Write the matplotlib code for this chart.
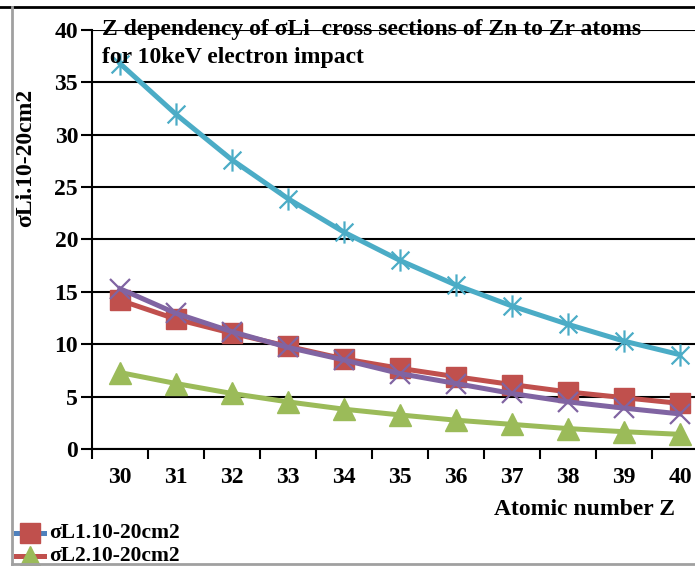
import matplotlib
matplotlib.use("Agg")
import matplotlib.pyplot as plt
from matplotlib.path import Path
from matplotlib.lines import Line2D

# Atomic numbers Zn (30) .. Zr (40)
z = [30, 31, 32, 33, 34, 35, 36, 37, 38, 39, 40]

# Cross sections in units of 10^-20 cm^2
sigma_L1 = [14.2, 12.4, 11.05, 9.8, 8.6, 7.7, 6.9, 6.15, 5.45, 4.9, 4.35]
sigma_L2 = [7.3, 6.25, 5.3, 4.5, 3.8, 3.25, 2.75, 2.35, 1.95, 1.65, 1.4]
sigma_L3 = [15.3, 12.95, 11.2, 9.7, 8.5, 7.2, 6.25, 5.3, 4.5, 3.9, 3.35]
sigma_Lt = [36.8, 31.95, 27.6, 23.9, 20.7, 18.0, 15.65, 13.65, 11.9, 10.3, 9.0]

y_ticks = [0, 5, 10, 15, 20, 25, 30, 35, 40]

title_lines = ["Z dependency of σLi  cross sections of Zn to Zr atoms",
               "for 10keV electron impact"]
legend_labels = ["σL1.10-20cm2", "σL2.10-20cm2"]

RED = "#C0504D"
GREEN = "#9BBB59"
PURPLE = "#8064A2"
CYAN = "#4BACC6"
BLUE = "#4F81BD"

plt.rcParams["font.family"] = ["Liberation Serif", "DejaVu Serif"]
plt.rcParams["font.weight"] = "bold"

W, H = 695, 566
fig = plt.figure(figsize=(W / 100, H / 100), dpi=100)


def fx(px):
    return px / W


def fy(py):
    return 1 - py / H


# plot area in pixels: x from 92 to 708 (clipped on the right), y from 30 to 449
left_px, right_px, top_px, bot_px = 92, 708, 30, 449
ax = fig.add_axes([fx(left_px), fy(bot_px),
                   (right_px - left_px) / W, (bot_px - top_px) / H])

# asterisk marker: an X plus a vertical bar
star_path = Path(
    [(-1, -1), (1, 1), (-1, 1), (1, -1), (0, -1.25), (0, 1.25)],
    [Path.MOVETO, Path.LINETO, Path.MOVETO, Path.LINETO, Path.MOVETO, Path.LINETO],
)

lw = 3.6
ax.plot(z, sigma_L1, color=RED, lw=lw, marker="s", ms=15, mfc=RED, mec=RED,
        zorder=3, clip_on=False)
ax.plot(z, sigma_L2, color=GREEN, lw=lw, marker="^", ms=16, mfc=GREEN, mec=GREEN,
        zorder=3, clip_on=False)
ax.plot(z, sigma_L3, color=PURPLE, lw=lw, marker="x", ms=15, mew=1.6, mec=PURPLE,
        zorder=4, clip_on=False)
ax.plot(z, sigma_Lt, color=CYAN, lw=lw, marker=star_path, ms=16, mew=1.6,
        mec=CYAN, mfc="none", zorder=4, clip_on=False)

ax.set_xlim(29.5, 40.5)
ax.set_ylim(0, 40)
ax.set_yticks(y_ticks)
ax.set_xticks(z)
ax.set_xticks([v - 0.5 for v in z] + [40.5], minor=True)
ax.tick_params(axis="x", which="major", length=0, pad=13, labelsize=17)
ax.tick_params(axis="x", which="minor", length=7.5, width=1.5, direction="out")
ax.tick_params(axis="y", length=8, width=1.5, direction="out", pad=2, labelsize=17)
for lab in ax.get_xticklabels() + ax.get_yticklabels():
    lab.set_fontweight("bold")

ax.grid(axis="y", color="black", lw=1.5)
ax.set_axisbelow(True)
for s in ["top", "right"]:
    ax.spines[s].set_visible(False)
ax.spines["left"].set_linewidth(1.5)
ax.spines["bottom"].set_linewidth(1.5)

# title (overlaps the top gridline)
fig.text(fx(102), fy(35), title_lines[0], fontsize=17, fontweight="bold",
         va="baseline", ha="left")
fig.text(fx(102), fy(63), title_lines[1], fontsize=17, fontweight="bold",
         va="baseline", ha="left")

fig.text(fx(26), fy(158), "σLi.10-20cm2", rotation=90, fontsize=17,
         fontweight="bold", va="center", ha="center")
fig.text(fx(675), fy(515), "Atomic number Z", fontsize=17, fontweight="bold",
         va="baseline", ha="right")

# legend entries (the rest of the legend falls below the figure edge)
legend_rows = [
    (533, BLUE, "s", RED, 14, legend_labels[0]),
    (556, RED, "^", GREEN, 15, legend_labels[1]),
]
for ypix, lcol, mk, mcol, msz, label in legend_rows:
    fig.add_artist(Line2D([fx(16), fx(44)], [fy(ypix), fy(ypix)], color=lcol,
                          lw=3.6, transform=fig.transFigure))
    fig.add_artist(Line2D([fx(30)], [fy(ypix)], marker=mk, ms=msz, mfc=mcol,
                          mec=mcol, ls="none", transform=fig.transFigure))
    fig.text(fx(49), fy(ypix), label, fontsize=15.5, fontweight="bold",
             va="center", ha="left")

# outer frame lines
fig.add_artist(Line2D([0, 1], [fy(7), fy(7)], color="black", lw=2,
                      transform=fig.transFigure))
fig.add_artist(Line2D([fx(12), fx(12)], [fy(7), fy(564)], color="#A0A0A0",
                      lw=2, transform=fig.transFigure))
fig.add_artist(Line2D([fx(12), 1], [fy(564), fy(564)], color="#A0A0A0",
                      lw=2, transform=fig.transFigure))

fig.savefig("out.png", dpi=100)
